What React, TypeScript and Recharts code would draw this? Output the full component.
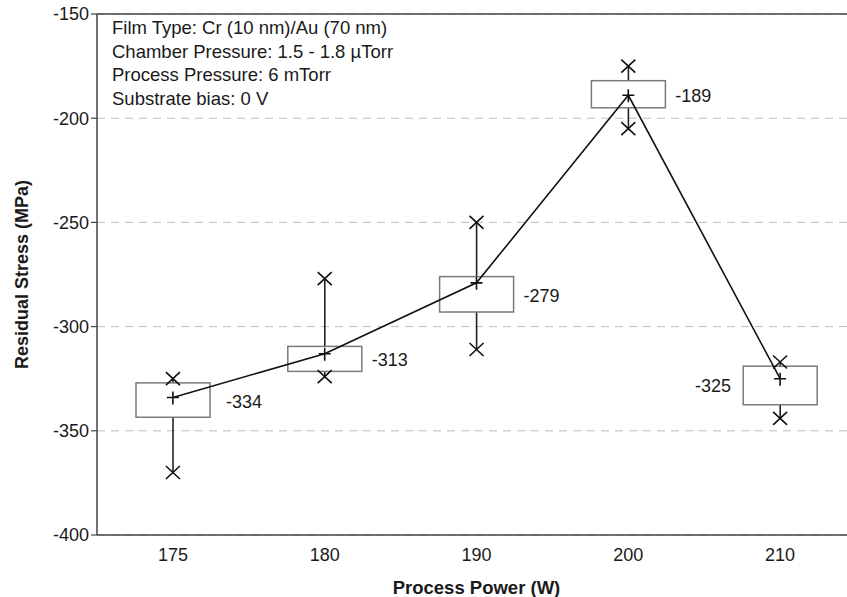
import { ComposedChart, Bar, Line, XAxis, YAxis, CartesianGrid, ReferenceLine, LabelList } from 'recharts'

const powers = ['175', '180', '190', '200', '210']
const minVals = [-370, -324, -311, -205, -344]
const q1Vals = [-343.5, -321.5, -293, -195, -337.5]
const meanVals = [-334, -313, -279, -189, -325]
const q3Vals = [-327, -309.5, -276, -182, -319]
const maxVals = [-325, -277, -250, -175, -317]
const yTicks = [-400, -350, -300, -250, -200, -150]

const notes = [
  'Film Type: Cr (10 nm)/Au (70 nm)',
  'Chamber Pressure: 1.5 - 1.8 \u00b5Torr',
  'Process Pressure: 6 mTorr',
  'Substrate bias: 0 V',
]

// where each value label sits relative to its mean point
const labelDx = [53, 47, 47, 47, -49]
const labelDy = [4, 6, 13, 0, 7]

const data = powers.map((p, i) => ({
  power: p,
  whisker: [minVals[i], maxVals[i]],
  box: [q1Vals[i], q3Vals[i]],
  mean: meanVals[i],
  min: minVals[i],
  max: maxVals[i],
}))

const FONT = '"Liberation Sans", Arial, Helvetica, sans-serif'

const WhiskerShape = (props: any) => {
  const { x, y, width, height } = props
  const cx = x + width / 2
  const top = Math.min(y, y + height)
  const bottom = Math.max(y, y + height)
  return <line x1={cx} x2={cx} y1={top} y2={bottom} stroke="#222" strokeWidth={1.6} />
}

const BoxShape = (props: any) => {
  const { x, y, width, height } = props
  const top = Math.min(y, y + height)
  return <rect x={x} y={top} width={width} height={Math.abs(height)} fill="#fff" stroke="#7a7a7a" strokeWidth={1.5} />
}

const PlusDot = (props: any) => {
  const { cx, cy, index } = props
  if (cx == null || cy == null) return null
  return (
    <path key={`p${index}`} d={`M${cx - 6},${cy} H${cx + 6} M${cx},${cy - 6} V${cy + 7}`} stroke="#111" strokeWidth={1.6} fill="none" />
  )
}

const CrossDot = (props: any) => {
  const { cx, cy, index } = props
  if (cx == null || cy == null) return null
  return (
    <path key={`x${index}`} d={`M${cx - 7},${cy - 6.5} L${cx + 7},${cy + 6.5} M${cx - 7},${cy + 6.5} L${cx + 7},${cy - 6.5}`} stroke="#111" strokeWidth={1.6} fill="none" />
  )
}

const ValueLabel = (props: any) => {
  const { x, y, value, index } = props
  const dx = labelDx[index]
  return (
    <text x={x + dx} y={y + labelDy[index]} dy="0.35em" textAnchor={dx < 0 ? 'end' : 'start'} fontSize={18} fill="#1a1a1a" fontFamily={FONT}>
      {value}
    </text>
  )
}

export default function App() {
  return (
    <div style={{ position: 'fixed', top: 0, left: 0, width: 847, height: 597, overflow: 'hidden', background: '#fff', fontFamily: FONT }}>
      <ComposedChart
        width={870}
        height={597}
        data={data}
        margin={{ top: 14, right: 14, left: 0, bottom: 0 }}
        barGap={-74}
        style={{ fontFamily: FONT }}
      >
        <CartesianGrid vertical={false} stroke="#bdbdbd" strokeDasharray="8 6" />
        <XAxis
          dataKey="power"
          type="category"
          height={62}
          tickLine={false}
          axisLine={{ stroke: '#444', strokeWidth: 1.5 }}
          tick={{ fontSize: 18, fill: '#1a1a1a' }}
          tickMargin={7}
          label={{ value: 'Process Power (W)', position: 'insideBottom', offset: 3, fontSize: 18.5, fontWeight: 'bold', fill: '#1a1a1a' }}
        />
        <YAxis
          type="number"
          domain={[-400, -150]}
          ticks={yTicks}
          width={97}
          tickSize={6}
          tickLine={{ stroke: '#444', strokeWidth: 1.2 }}
          axisLine={{ stroke: '#444', strokeWidth: 1.5 }}
          tick={{ fontSize: 18, fill: '#1a1a1a' }}
          label={{ value: 'Residual Stress (MPa)', angle: -90, position: 'insideLeft', offset: 0, dx: 22, fontSize: 18, fontWeight: 'bold', fill: '#1a1a1a', style: { textAnchor: 'middle' } }}
        />
        <ReferenceLine y={-150} stroke="#444" strokeWidth={1.5} />
        <Bar dataKey="whisker" barSize={74} shape={<WhiskerShape />} isAnimationActive={false} />
        <Bar dataKey="box" barSize={74} shape={<BoxShape />} isAnimationActive={false} />
        <Line dataKey="min" stroke="none" dot={CrossDot} activeDot={false} isAnimationActive={false} />
        <Line dataKey="max" stroke="none" dot={CrossDot} activeDot={false} isAnimationActive={false} />
        <Line type="linear" dataKey="mean" stroke="#111" strokeWidth={1.6} dot={PlusDot} activeDot={false} isAnimationActive={false}>
          <LabelList dataKey="mean" content={ValueLabel} />
        </Line>
      </ComposedChart>
      <div style={{ position: 'absolute', left: 112, top: 16, fontSize: 18.5, lineHeight: '23.5px', color: '#1a1a1a', pointerEvents: 'none' }}>
        {notes.map((n) => (
          <div key={n}>{n}</div>
        ))}
      </div>
    </div>
  )
}
